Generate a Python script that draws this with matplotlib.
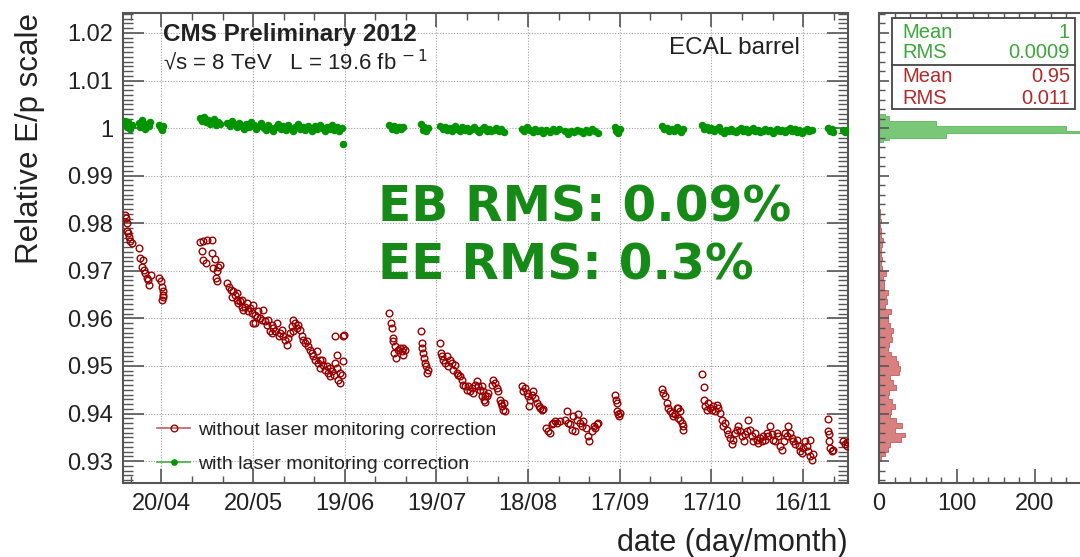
import numpy as np
import matplotlib
matplotlib.use("Agg")
import matplotlib.pyplot as plt
import matplotlib.dates as mdates
from matplotlib.patches import Rectangle
from matplotlib.lines import Line2D
from matplotlib.ticker import FixedLocator, MultipleLocator, NullFormatter

plt.rcParams['font.family'] = ['Liberation Sans', 'DejaVu Sans']

W, H = 1080, 557

# x values are days after 20/04/2012
start_date = np.datetime64('2012-04-20')
day_range = (-12.6, 224.7)
scale_range = (0.9254, 1.0242)

# E/p scale without laser monitoring correction
red_days = [
    -11.9, -11.6, -11.2, -11.4, -10.9, -10.5, -10.3, -9.8, -7.3, -7.0,
    -6.2, -6.5, -5.7, -5.4, -4.9, -4.3, -4.0, -3.5, -0.7, -0.3,
    0.1, 0.4, 0.6, 0.2, 0.6, 12.6, 13.7, 15.0, 16.4, 13.1,
    13.7, 14.6, 16.4, 17.5, 17.0, 18.1, 18.6, 19.2, 17.8, 18.3,
    21.6, 22.2, 22.8, 23.5, 23.0, 24.1, 24.6, 25.2, 25.7, 26.2,
    26.8, 27.3, 27.9, 28.4, 29.0, 29.5, 29.8, 30.1, 30.6, 31.2,
    31.7, 32.2, 32.8, 33.3, 33.9, 34.4, 35.0, 35.5, 36.1, 36.6,
    37.2, 37.7, 38.3, 38.8, 39.3, 39.9, 40.4, 41.0, 41.5, 42.1,
    42.6, 43.2, 43.7, 44.3, 44.8, 45.3, 45.9, 46.4, 47.0, 47.5,
    48.1, 48.6, 49.2, 49.7, 50.3, 50.8, 51.3, 51.9, 52.4, 53.0,
    53.5, 54.1, 54.6, 55.2, 55.7, 56.3, 56.8, 57.3, 57.9, 58.4,
    59.0, 59.3, 56.8, 57.3, 59.3, 59.7, 30.6, 36.1, 43.2, 51.9,
    55.2, 58.4, 24.6, 26.2, 74.6, 75.0, 75.3, 75.7, 75.9, 76.4,
    76.1, 76.8, 77.5, 78.1, 78.6, 79.2, 79.0, 79.7, 85.0, 85.2,
    85.4, 85.7, 85.9, 86.3, 86.6, 86.8, 87.3, 91.2, 91.4, 91.7,
    92.3, 92.8, 93.3, 93.9, 94.4, 95.0, 95.5, 96.1, 96.6, 97.2,
    97.7, 98.3, 98.8, 99.3, 99.9, 100.4, 101.0, 101.5, 102.1, 102.6,
    103.2, 103.7, 104.3, 104.8, 105.4, 105.9, 106.4, 104.8, 105.3, 105.9,
    107.0, 108.1, 108.6, 109.2, 109.7, 110.3, 110.8, 111.4, 111.9, 112.4,
    111.0, 112.1, 117.9, 118.4, 119.0, 119.5, 120.1, 120.6, 120.4, 121.2,
    121.7, 122.3, 122.8, 123.4, 123.9, 124.4, 125.0, 125.9, 126.6, 127.2,
    127.7, 128.3, 128.8, 129.4, 130.4, 132.1, 132.8, 133.2, 133.7, 134.3,
    134.8, 135.4, 135.9, 136.4, 137.0, 137.5, 138.1, 139.0, 139.7, 140.0,
    140.8, 141.4, 141.9, 142.4, 143.0, 148.4, 148.8, 149.0, 149.2, 149.5,
    149.9, 150.1, 163.7, 164.3, 164.8, 165.4, 165.9, 166.5, 167.0, 167.5,
    168.1, 168.6, 169.2, 169.7, 170.3, 170.6, 170.8, 169.7, 169.2, 176.8,
    177.6, 177.6, 177.9, 178.5, 179.0, 179.5, 180.1, 180.6, 181.2, 181.7,
    182.3, 182.8, 183.4, 183.9, 184.5, 185.0, 185.5, 186.1, 186.6, 187.2,
    187.7, 188.3, 188.8, 189.4, 189.9, 190.5, 191.0, 191.5, 192.1, 192.6,
    193.2, 193.7, 194.3, 194.8, 195.4, 195.9, 196.5, 197.0, 197.6, 198.1,
    198.6, 199.2, 199.7, 200.3, 200.8, 201.4, 201.9, 202.5, 203.0, 203.6,
    204.1, 204.6, 205.2, 205.7, 206.3, 206.8, 207.4, 207.9, 208.5, 209.0,
    209.6, 210.1, 210.6, 211.2, 211.7, 212.3, 212.8, 213.2, 212.3, 218.3,
    218.3, 218.5, 218.6, 218.8, 219.4, 219.9, 223.2, 223.7, 224.3, 224.5,
]
red_scale = [
    0.9818, 0.9811, 0.9800, 0.9783, 0.9779, 0.9772, 0.9762, 0.9758, 0.9748, 0.9727,
    0.9723, 0.9709, 0.9702, 0.9695, 0.9685, 0.9681, 0.9670, 0.9692, 0.9685, 0.9678,
    0.9667, 0.9657, 0.9646, 0.9639, 0.9650, 0.9760, 0.9762, 0.9764, 0.9764, 0.9741,
    0.9723, 0.9716, 0.9737, 0.9725, 0.9706, 0.9699, 0.9709, 0.9713, 0.9685, 0.9678,
    0.9674, 0.9667, 0.9660, 0.9657, 0.9646, 0.9650, 0.9639, 0.9632, 0.9636, 0.9625,
    0.9618, 0.9625, 0.9632, 0.9615, 0.9622, 0.9611, 0.9590, 0.9629, 0.9608, 0.9604,
    0.9615, 0.9601, 0.9597, 0.9618, 0.9594, 0.9587, 0.9597, 0.9573, 0.9569, 0.9580,
    0.9573, 0.9590, 0.9562, 0.9569, 0.9576, 0.9562, 0.9555, 0.9545, 0.9559, 0.9569,
    0.9583, 0.9597, 0.9590, 0.9580, 0.9587, 0.9576, 0.9562, 0.9555, 0.9548, 0.9552,
    0.9541, 0.9534, 0.9527, 0.9520, 0.9513, 0.9531, 0.9506, 0.9496, 0.9513, 0.9503,
    0.9492, 0.9499, 0.9485, 0.9478, 0.9489, 0.9482, 0.9506, 0.9496, 0.9471, 0.9464,
    0.9482, 0.9510, 0.9562, 0.9524, 0.9562, 0.9566, 0.9590, 0.9587, 0.9573, 0.9513,
    0.9496, 0.9485, 0.9653, 0.9639, 0.9611, 0.9590, 0.9580, 0.9559, 0.9552, 0.9541,
    0.9527, 0.9517, 0.9534, 0.9538, 0.9531, 0.9538, 0.9524, 0.9534, 0.9573, 0.9548,
    0.9538, 0.9527, 0.9517, 0.9506, 0.9499, 0.9485, 0.9492, 0.9548, 0.9527, 0.9520,
    0.9513, 0.9506, 0.9520, 0.9499, 0.9513, 0.9506, 0.9492, 0.9503, 0.9485, 0.9482,
    0.9478, 0.9471, 0.9461, 0.9457, 0.9450, 0.9457, 0.9447, 0.9454, 0.9443, 0.9461,
    0.9468, 0.9457, 0.9450, 0.9436, 0.9429, 0.9425, 0.9436, 0.9457, 0.9447, 0.9436,
    0.9443, 0.9461, 0.9471, 0.9464, 0.9454, 0.9447, 0.9429, 0.9415, 0.9408, 0.9405,
    0.9422, 0.9422, 0.9457, 0.9447, 0.9454, 0.9443, 0.9436, 0.9429, 0.9415, 0.9440,
    0.9447, 0.9433, 0.9422, 0.9415, 0.9412, 0.9408, 0.9409, 0.9370, 0.9363, 0.9359,
    0.9377, 0.9380, 0.9384, 0.9380, 0.9384, 0.9387, 0.9405, 0.9380, 0.9377, 0.9366,
    0.9394, 0.9363, 0.9387, 0.9398, 0.9380, 0.9373, 0.9384, 0.9370, 0.9352, 0.9342,
    0.9363, 0.9373, 0.9370, 0.9377, 0.9380, 0.9440, 0.9429, 0.9422, 0.9405, 0.9398,
    0.9394, 0.9401, 0.9452, 0.9443, 0.9436, 0.9422, 0.9412, 0.9405, 0.9401, 0.9394,
    0.9398, 0.9412, 0.9391, 0.9387, 0.9380, 0.9373, 0.9366, 0.9405, 0.9412, 0.9483,
    0.9456, 0.9429, 0.9415, 0.9408, 0.9422, 0.9412, 0.9408, 0.9415, 0.9405, 0.9419,
    0.9412, 0.9401, 0.9387, 0.9373, 0.9380, 0.9366, 0.9356, 0.9349, 0.9335, 0.9345,
    0.9359, 0.9366, 0.9373, 0.9363, 0.9352, 0.9342, 0.9356, 0.9363, 0.9387, 0.9366,
    0.9352, 0.9342, 0.9359, 0.9345, 0.9338, 0.9349, 0.9342, 0.9352, 0.9345, 0.9359,
    0.9352, 0.9373, 0.9356, 0.9345, 0.9342, 0.9359, 0.9352, 0.9331, 0.9324, 0.9342,
    0.9359, 0.9352, 0.9373, 0.9359, 0.9349, 0.9342, 0.9335, 0.9345, 0.9331, 0.9321,
    0.9317, 0.9328, 0.9342, 0.9331, 0.9321, 0.9310, 0.9303, 0.9314, 0.9345, 0.9389,
    0.9363, 0.9356, 0.9342, 0.9328, 0.9321, 0.9324, 0.9342, 0.9335, 0.9331, 0.9340,
]

# E/p scale with laser monitoring correction
green_days = [
    -12.0, -11.6, -11.2, -10.8, -10.3, -9.7, -7.3, -7.0, -6.4, -5.8,
    -5.3, -4.8, -4.2, -3.6, -0.8, -0.3, 0.2, 0.6, 12.5, 13.2,
    13.8, 14.6, 15.2, 16.0, 16.6, 17.2, 17.8, 18.4, 19.1, 21.5,
    22.3, 23.0, 23.8, 24.6, 25.4, 26.2, 27.0, 27.8, 28.6, 29.4,
    30.2, 31.0, 31.8, 32.6, 33.4, 34.2, 35.0, 35.8, 36.6, 37.4,
    38.2, 39.0, 39.8, 40.6, 41.4, 42.2, 43.0, 43.8, 44.6, 45.4,
    46.2, 47.0, 47.8, 48.6, 49.4, 50.2, 51.0, 51.8, 52.6, 53.4,
    54.2, 55.0, 55.8, 56.6, 57.4, 58.2, 59.0, 59.4, 74.6, 75.3,
    76.0, 76.8, 77.6, 78.4, 79.2, 85.0, 85.5, 86.0, 86.6, 87.2,
    91.3, 92.0, 92.8, 93.6, 94.4, 95.2, 96.0, 96.8, 97.6, 98.4,
    99.2, 100.0, 100.8, 101.6, 102.4, 103.2, 104.0, 104.8, 105.6, 106.4,
    107.2, 108.0, 108.8, 109.6, 110.4, 111.2, 112.0, 117.9, 118.8, 119.7,
    120.6, 121.5, 122.4, 123.3, 124.2, 125.0, 126.0, 127.0, 128.0, 129.0,
    130.2, 132.0, 133.0, 134.0, 135.0, 136.0, 137.0, 138.0, 139.0, 140.0,
    141.0, 142.0, 143.0, 148.4, 148.9, 149.4, 150.0, 163.8, 164.6, 165.4,
    166.2, 167.0, 167.8, 168.6, 169.4, 170.2, 170.8, 176.8, 177.6, 178.4,
    179.2, 180.0, 180.8, 181.6, 182.4, 183.2, 184.0, 184.8, 185.6, 186.4,
    187.2, 188.0, 188.8, 189.6, 190.4, 191.2, 192.0, 192.8, 193.6, 194.4,
    195.2, 196.0, 196.8, 197.6, 198.4, 199.2, 200.0, 200.8, 201.6, 202.4,
    203.2, 204.0, 204.8, 205.6, 206.4, 207.2, 208.0, 208.8, 209.6, 210.4,
    211.2, 212.0, 212.8, 218.3, 218.8, 219.4, 219.9, 223.2, 223.8, 224.4,
]
green_scale = [
    1.0015, 1.0008, 1.0002, 1.0012, 0.9998, 1.0006, 1.0010, 1.0003, 1.0018, 1.0004,
    0.9999, 1.0009, 1.0005, 1.0012, 1.0007, 1.0001, 0.9996, 1.0004, 1.0021, 1.0016,
    1.0024, 1.0012, 1.0018, 1.0009, 1.0014, 1.0020, 1.0006, 1.0013, 1.0008, 1.0010,
    1.0004, 1.0015, 1.0008, 1.0002, 1.0011, 1.0005, 0.9999, 1.0009, 1.0003, 1.0012,
    1.0006, 0.9998, 1.0004, 1.0010, 1.0001, 0.9996, 1.0006, 1.0000, 0.9994, 1.0003,
    1.0008, 0.9999, 1.0004, 0.9997, 1.0006, 1.0001, 0.9995, 1.0003, 1.0009, 0.9998,
    1.0002, 0.9996, 1.0005, 1.0000, 0.9993, 1.0004, 0.9998, 1.0007, 1.0001, 0.9995,
    1.0003, 0.9999, 1.0006, 0.9997, 1.0002, 0.9994, 1.0001, 0.9967, 1.0006, 0.9999,
    1.0004, 0.9996, 1.0002, 0.9998, 1.0003, 1.0008, 0.9996, 1.0002, 0.9993, 1.0000,
    1.0005, 0.9998, 1.0003, 0.9996, 1.0001, 0.9995, 1.0004, 0.9999, 0.9993, 1.0002,
    0.9997, 1.0001, 0.9994, 0.9999, 1.0003, 0.9996, 0.9991, 0.9998, 1.0002, 0.9995,
    0.9999, 0.9993, 0.9997, 1.0001, 0.9994, 0.9998, 0.9992, 0.9999, 0.9994, 1.0002,
    0.9996, 0.9991, 0.9998, 0.9993, 0.9997, 0.9990, 0.9996, 0.9992, 0.9998, 0.9994,
    0.9999, 0.9993, 0.9988, 0.9995, 0.9991, 0.9997, 0.9993, 0.9989, 0.9996, 0.9992,
    0.9998, 0.9994, 0.9990, 1.0002, 0.9995, 0.9990, 0.9998, 1.0004, 0.9998, 1.0001,
    0.9994, 0.9999, 0.9995, 1.0002, 0.9996, 0.9992, 0.9998, 1.0006, 0.9999, 1.0003,
    0.9996, 1.0001, 0.9994, 0.9998, 1.0002, 0.9995, 0.9990, 0.9997, 0.9993, 0.9999,
    0.9995, 0.9991, 0.9997, 1.0001, 0.9994, 0.9998, 0.9992, 0.9996, 1.0000, 0.9993,
    0.9997, 0.9991, 0.9995, 0.9999, 0.9993, 0.9997, 0.9990, 0.9995, 0.9999, 0.9993,
    0.9997, 0.9991, 0.9996, 1.0000, 0.9994, 0.9998, 0.9992, 0.9996, 0.9990, 0.9995,
    0.9999, 0.9993, 0.9997, 1.0001, 0.9994, 0.9998, 0.9992, 0.9997, 0.9991, 0.9996,
]

# projections: bin counts from the lowest bin upwards
red_hist_edges = np.linspace(0.930, 0.983, 54)
red_hist_counts = [
    2, 8, 12, 14, 28, 33, 20, 29, 22, 14,
    15, 20, 17, 12, 13, 22, 18, 14, 25, 27,
    24, 22, 16, 12, 13, 17, 15, 18, 14, 12,
    12, 16, 8, 10, 9, 11, 6, 7, 5, 9,
    4, 3, 4, 2, 3, 4, 5, 3, 2, 1, 2, 1, 1,
]
green_hist_edges = np.linspace(0.9970, 1.0030, 13)
green_hist_counts = [5, 13, 86, 86, 300, 240, 240, 73, 73, 13, 13, 8]

stats_rows = [("Mean", "1"), ("RMS", "0.0009"), ("Mean", "0.95"), ("RMS", "0.011")]
major_tick_dates = ['2012-04-20', '2012-05-20', '2012-06-19', '2012-07-19',
                    '2012-08-18', '2012-09-17', '2012-10-17', '2012-11-16']

RED = '#990000'
GREEN = '#009400'
FRAME = '#555555'
TEXT = '#222222'


def to_dates(days):
    return mdates.date2num(start_date) + np.asarray(days, dtype=float)


def fx(px):
    return px / W


def fy(py):
    return 1 - py / H


fig = plt.figure(figsize=(W / 100, H / 100), dpi=100)
ax = fig.add_axes([fx(123), fy(483), (848 - 123) / W, (483 - 13) / H])
axh = fig.add_axes([fx(879), fy(483), (1092 - 879) / W, (483 - 13) / H])

# main panel
ax.plot(to_dates(green_days), green_scale, 'o', ms=4.4, color=GREEN, mec=GREEN, zorder=3)
ax.plot(to_dates(red_days), red_scale, 'o', ms=4.8, mfc='none', mec=RED, mew=1.0, zorder=3)

ax.set_xlim(to_dates(day_range))
ax.set_ylim(scale_range)

ax.xaxis.set_major_locator(FixedLocator(mdates.datestr2num(major_tick_dates)))
ax.xaxis.set_minor_locator(FixedLocator(to_dates(np.arange(-10, 225, 10))))
ax.xaxis.set_major_formatter(mdates.DateFormatter('%d/%m'))
ax.yaxis.set_major_locator(MultipleLocator(0.01))
ax.yaxis.set_minor_locator(MultipleLocator(0.001))
ax.yaxis.set_major_formatter(plt.FuncFormatter(lambda v, p: "1" if abs(v - 1) < 1e-9 else f"{v:.2f}"))

ax.grid(True, which='major', color='#a0a0a0', linestyle=(0, (1, 1.5)), linewidth=0.8)
ax.tick_params(which='both', direction='in', top=True, right=True, colors=FRAME,
               labelcolor=TEXT, labelsize=17)
ax.tick_params(axis='x', which='major', length=10, width=1.2, pad=7)
ax.tick_params(axis='x', which='minor', length=5, width=1.0)
ax.tick_params(axis='y', which='major', length=15, width=1.2, pad=7)
ax.tick_params(axis='y', which='minor', length=7, width=1.0)
for s in ax.spines.values():
    s.set_color(FRAME)
    s.set_linewidth(1.5)

# projection panel
axh.stairs(green_hist_counts, green_hist_edges, orientation='horizontal', fill=True,
           facecolor='#78c878', edgecolor='#5cb85c', linewidth=0.6)
axh.stairs(red_hist_counts, red_hist_edges, orientation='horizontal', fill=True,
           facecolor='#d98080', edgecolor='#c45a5a', linewidth=0.6)
axh.set_ylim(scale_range)
axh.set_xlim(0, (1092 - 879) / 0.78)
axh.xaxis.set_major_locator(MultipleLocator(100))
axh.xaxis.set_minor_locator(MultipleLocator(20))
axh.yaxis.set_major_locator(MultipleLocator(0.01))
axh.yaxis.set_minor_locator(MultipleLocator(0.002))
axh.yaxis.set_major_formatter(NullFormatter())
axh.tick_params(which='both', direction='in', top=True, right=True, colors=FRAME,
                labelcolor=TEXT, labelsize=17)
axh.tick_params(axis='x', which='major', length=10, width=1.2, pad=7)
axh.tick_params(axis='x', which='minor', length=4, width=1.0)
axh.tick_params(axis='y', which='major', length=7, width=1.2)
axh.tick_params(axis='y', which='minor', length=4, width=1.0)
for s in axh.spines.values():
    s.set_color(FRAME)
    s.set_linewidth(1.5)

# stats box
fig.add_artist(Rectangle((fx(892), fy(109)), (1075 - 892) / W, (109 - 18) / H,
                         transform=fig.transFigure, facecolor='white', edgecolor='#444444',
                         linewidth=1.3, zorder=5))
fig.add_artist(Line2D([fx(892), fx(1075)], [fy(65), fy(65)], transform=fig.transFigure,
                      color='#444444', linewidth=1.3, zorder=6))
row_y = [32, 53, 77, 98]
row_colors = ['#3aa83a', '#3aa83a', '#b22a2a', '#b22a2a']
for (name, val), yy, c in zip(stats_rows, row_y, row_colors):
    fig.text(fx(902), fy(yy), name, color=c, fontsize=14.5, va='center', ha='left', zorder=7)
    fig.text(fx(1070), fy(yy), val, color=c, fontsize=14.5, va='center', ha='right', zorder=7)

# labels and annotations
fig.text(fx(163), fy(34), "CMS Preliminary 2012", fontsize=17.5, fontweight='bold',
         color=TEXT, va='center', ha='left')
fig.text(fx(163), fy(62), "√s = 8 TeV   L = 19.6 fb$^{\\,-1}$", fontsize=16,
         color=TEXT, va='center', ha='left')
fig.text(fx(800), fy(48), "ECAL barrel", fontsize=17.5, color=TEXT, va='center', ha='right')
fig.text(fx(378), fy(208), "EB RMS: 0.09%", fontsize=35, fontweight='bold',
         family='DejaVu Sans', color='#168a16', va='center', ha='left', zorder=6)
fig.text(fx(378), fy(266), "EE RMS: 0.3%", fontsize=35, fontweight='bold',
         family='DejaVu Sans', color='#168a16', va='center', ha='left', zorder=6)

fig.text(fx(30), fy(13), "Relative E/p scale", rotation=90, fontsize=22.5,
         color=TEXT, va='top', ha='center')
fig.text(fx(848), fy(543), "date (day/month)", fontsize=22, color=TEXT,
         va='center', ha='right')

handles = [
    Line2D([], [], color='#c06060', lw=1.2, marker='o', ms=4.8, mfc='none', mec=RED),
    Line2D([], [], color='#40b040', lw=1.2, marker='o', ms=3.8, mfc=GREEN, mec=GREEN),
]
ax.legend(handles, ["without laser monitoring correction", "with laser monitoring correction"],
          loc='upper left', bbox_to_anchor=((157 - 123) / 725, (483 - 421) / 470),
          frameon=False, fontsize=14, handlelength=1.7, handletextpad=0.4,
          labelspacing=0.85, borderpad=0, borderaxespad=0, labelcolor=TEXT)

fig.savefig("out.png", dpi=100)
